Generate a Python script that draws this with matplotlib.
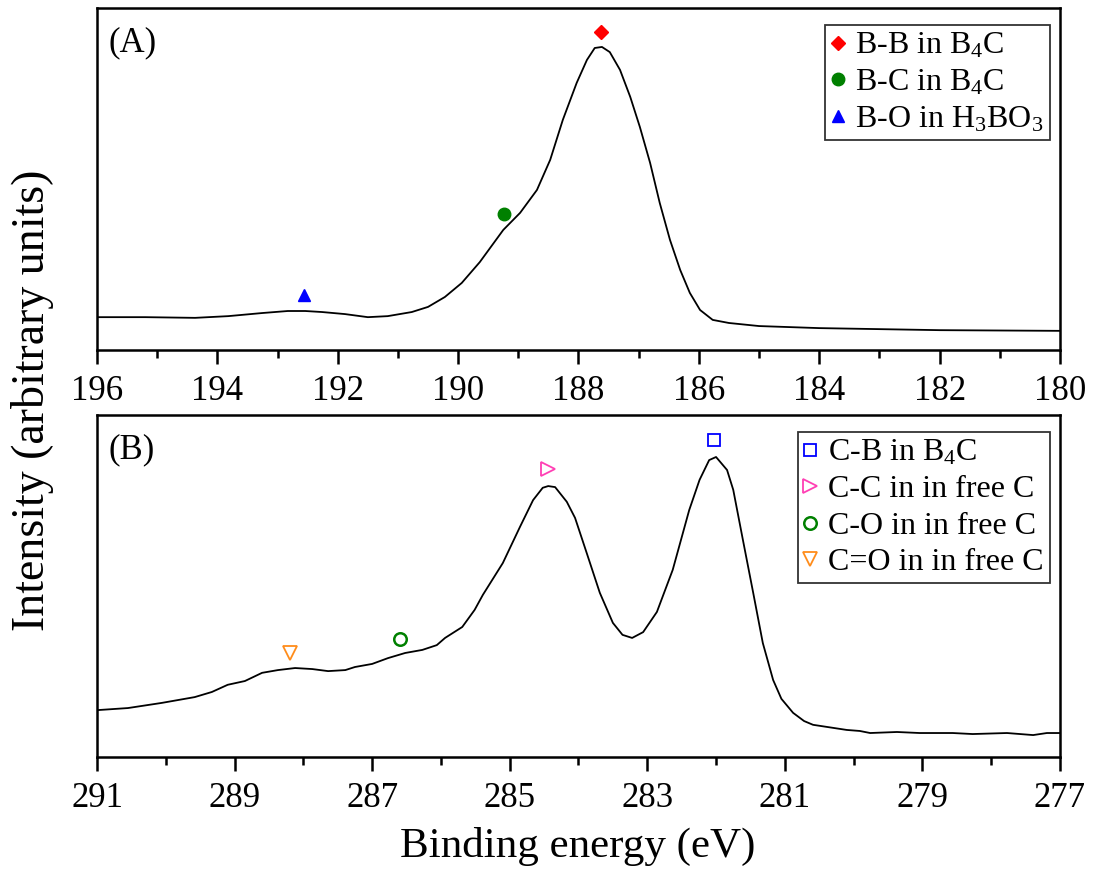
import numpy as np
import matplotlib
matplotlib.use("Agg")
from matplotlib import pyplot as plt
from matplotlib.ticker import MultipleLocator

plt.rcParams['font.family'] = ['Liberation Serif', 'DejaVu Serif']
plt.rcParams['mathtext.default'] = 'regular'

# B 1s spectrum (binding energy in eV, intensity in arbitrary units)
b_energy = [195.98, 195.20, 194.37, 193.82, 193.26, 192.83, 192.54, 192.26, 191.88,
            191.50, 191.17, 190.77, 190.50, 190.22, 189.94, 189.64, 189.25, 188.97,
            188.69, 188.47, 188.26, 188.03, 187.86, 187.73, 187.61, 187.48, 187.31,
            187.14, 186.98, 186.81, 186.65, 186.48, 186.31, 186.15, 185.98, 185.77,
            185.5, 185.0, 184.0, 182.0, 180.0]
b_intensity = [0.096, 0.096, 0.094, 0.099, 0.108, 0.114, 0.114, 0.111, 0.105,
               0.096, 0.099, 0.111, 0.126, 0.155, 0.196, 0.257, 0.351, 0.401,
               0.468, 0.556, 0.673, 0.781, 0.848, 0.883, 0.886, 0.871, 0.819,
               0.740, 0.652, 0.547, 0.430, 0.322, 0.234, 0.167, 0.117, 0.088,
               0.079, 0.070, 0.064, 0.058, 0.056]

# C 1s spectrum
c_energy = [290.99, 290.55, 290.06, 289.58, 289.33, 289.10, 288.85, 288.60, 288.37,
            288.12, 287.87, 287.64, 287.39, 287.25, 287.00, 286.77, 286.52, 286.27,
            286.06, 285.94, 285.69, 285.51, 285.39, 285.10, 284.85, 284.66, 284.52,
            284.44, 284.34, 284.17, 284.05, 283.88, 283.69, 283.50, 283.36, 283.22,
            283.06, 282.86, 282.63, 282.39, 282.24, 282.10, 282.00, 281.84, 281.75,
            281.61, 281.46, 281.32, 281.17, 281.05, 280.88, 280.72, 280.59, 280.10,
            279.91, 279.76, 279.37, 279.04, 278.56, 278.27, 277.77, 277.39, 277.19,
            277.0]
c_intensity = [0.137, 0.143, 0.158, 0.175, 0.190, 0.211, 0.222, 0.246, 0.254,
               0.260, 0.257, 0.251, 0.254, 0.263, 0.272, 0.289, 0.304, 0.313,
               0.327, 0.348, 0.380, 0.430, 0.474, 0.567, 0.673, 0.751, 0.787,
               0.792, 0.789, 0.746, 0.699, 0.596, 0.480, 0.392, 0.357, 0.348,
               0.365, 0.424, 0.547, 0.722, 0.810, 0.868, 0.877, 0.839, 0.781,
               0.635, 0.480, 0.333, 0.225, 0.170, 0.129, 0.105, 0.094, 0.079,
               0.076, 0.070, 0.073, 0.070, 0.070, 0.067, 0.070, 0.064, 0.070,
               0.070]

# peak assignments
b_labels = ['B-B in B$_4$C', 'B-C in B$_4$C', 'B-O in H$_3$BO$_3$']
b_peak_e = [187.63, 189.24, 192.56]
b_peak_i = [0.930, 0.398, 0.161]

c_labels = ['C-B in B$_4$C', 'C-C in in free C', 'C-O in in free C', 'C=O in in free C']
c_peak_e = [282.03, 284.45, 286.6, 288.2]
c_peak_i = [0.927, 0.842, 0.345, 0.304]

fig = plt.figure(figsize=(10.95, 8.75), dpi=100)
ax1 = fig.add_axes([0.0886, 0.6, 0.8794, 0.3909])
ax2 = fig.add_axes([0.0886, 0.1349, 0.8794, 0.3909])

ax1.plot(b_energy, b_intensity, color='black', lw=1.3)
ax1.plot(b_peak_e[0], b_peak_i[0], 'D', color='red', ms=7, label=b_labels[0])
ax1.plot(b_peak_e[1], b_peak_i[1], 'o', color='green', ms=9, label=b_labels[1])
ax1.plot(b_peak_e[2], b_peak_i[2], '^', color='blue', ms=9, label=b_labels[2])
ax1.set_xlim(196, 180)
ax1.xaxis.set_major_locator(MultipleLocator(2))
ax1.xaxis.set_minor_locator(MultipleLocator(1))

ax2.plot(c_energy, c_intensity, color='black', lw=1.3)
ax2.plot(c_peak_e[0], c_peak_i[0], 's', mfc='none', mec='blue', mew=1.3, ms=9, label=c_labels[0])
ax2.plot(c_peak_e[1], c_peak_i[1], '>', mfc='none', mec='#ff3fb4', mew=1.3, ms=10, label=c_labels[1])
ax2.plot(c_peak_e[2], c_peak_i[2], 'o', mfc='none', mec='green', mew=1.8, ms=9, label=c_labels[2])
ax2.plot(c_peak_e[3], c_peak_i[3], 'v', mfc='none', mec='#ff8c1a', mew=1.3, ms=10, label=c_labels[3])
ax2.set_xlim(291, 277)
ax2.xaxis.set_major_locator(MultipleLocator(2, offset=1))
ax2.xaxis.set_minor_locator(MultipleLocator(1))

for ax, tag in [(ax1, '(A)'), (ax2, '(B)')]:
    ax.set_ylim(0, 1)
    ax.set_yticks([])
    for sp in ax.spines.values():
        sp.set_linewidth(1.8)
    ax.tick_params(axis='x', which='major', direction='out', length=10, width=1.8,
                   labelsize=25, pad=8)
    ax.tick_params(axis='x', which='minor', direction='out', length=6, width=1.8)
    ax.text(0.012, 0.945, tag, transform=ax.transAxes, fontsize=25, va='top')
    leg = ax.legend(loc='upper right', bbox_to_anchor=(0.9896, 0.95), borderaxespad=0,
                    fontsize=23, frameon=True, fancybox=False,
                    handlelength=0.4, handletextpad=0.35, borderpad=0.2,
                    labelspacing=0.22)
    leg.get_frame().set_edgecolor('black')
    leg.get_frame().set_linewidth(1.3)

fig.text(0.528, 0.010, 'Binding energy (eV)', ha='center', va='bottom', fontsize=31)
fig.text(0.01, 0.542, 'Intensity (arbitrary units)', rotation=90, ha='left',
         va='center', fontsize=33)

fig.savefig('out.png', dpi=100)
